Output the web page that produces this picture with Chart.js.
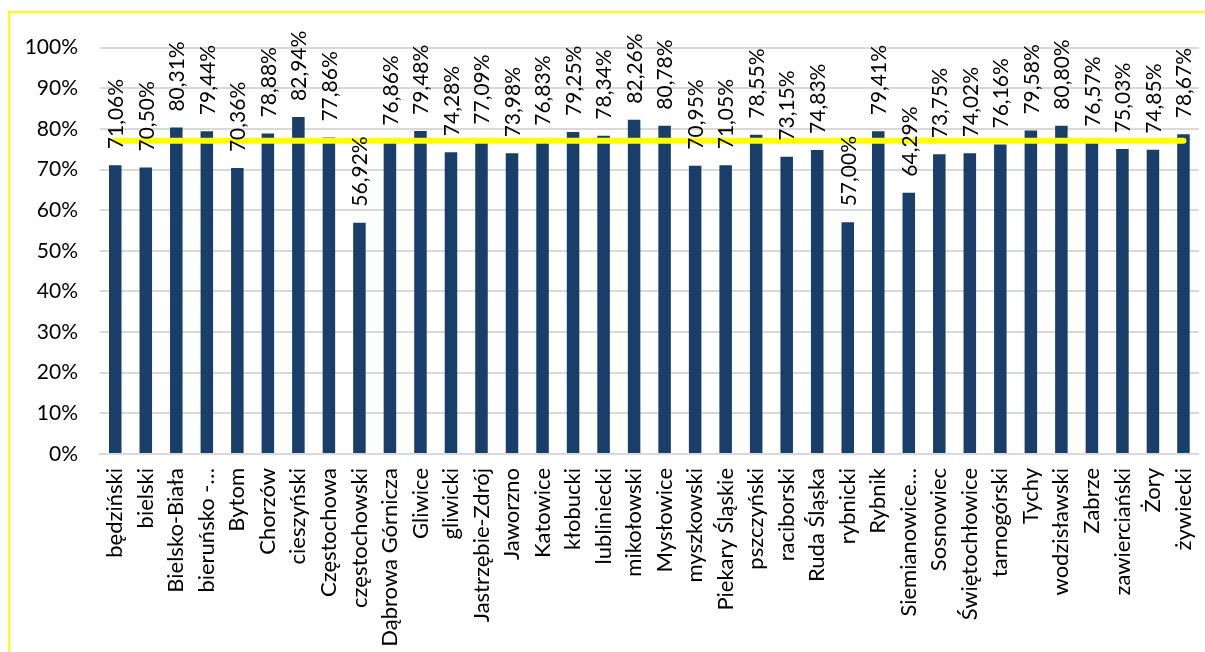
<!DOCTYPE html>
<html>
<head>
<meta charset="utf-8">
<script src="https://cdn.jsdelivr.net/npm/chart.js@4.4.0/dist/chart.umd.min.js"></script>
<style>
body { margin: 0; overflow: hidden; background: #fff; }
#frame { position: absolute; left: 8px; top: 11px; width: 1240px; height: 700px; border: 2px solid #ffff00; }
#chart1 { position: absolute; left: 0; top: 0; }
</style>
</head>
<body>
<div id="frame"><canvas id="chart1" width="1214" height="640"></canvas></div>
<script>

var categories = ['będziński', 'bielski', 'Bielsko-Biała', 'bieruńsko -…', 'Bytom', 'Chorzów', 'cieszyński',
    'Częstochowa', 'częstochowski', 'Dąbrowa Górnicza', 'Gliwice', 'gliwicki', 'Jastrzębie-Zdrój', 'Jaworzno',
    'Katowice', 'kłobucki', 'lubliniecki', 'mikołowski', 'Mysłowice', 'myszkowski', 'Piekary Śląskie',
    'pszczyński', 'raciborski', 'Ruda Śląska', 'rybnicki', 'Rybnik', 'Siemianowice…', 'Sosnowiec',
    'Świętochłowice', 'tarnogórski', 'Tychy', 'wodzisławski', 'Zabrze', 'zawierciański', 'Żory', 'żywiecki'];

var values = [71.06, 70.50, 80.31, 79.44, 70.36, 78.88, 82.94, 77.86, 56.92, 76.86, 79.48, 74.28,
    77.09, 73.98, 76.83, 79.25, 78.34, 82.26, 80.78, 70.95, 71.05, 78.55, 73.15, 74.83,
    57.00, 79.41, 64.29, 73.75, 74.02, 76.16, 79.58, 80.80, 76.57, 75.03, 74.85, 78.67];

// yellow reference line, runs from first to last category
var refLine = [77.1, 77.1];

var yMin = 0, yMax = 100, yStep = 10;

var barColor = '#1a3e6a';
var fontName = 'Lato';


// labels above the bars, turned upright like in excel
var barLabels = {
  id: 'barLabels',
  afterDatasetsDraw: function (chart) {
    var meta = chart.getDatasetMeta(1);
    var ctx = chart.ctx;
    ctx.save();
    ctx.font = '21px ' + fontName;
    ctx.fillStyle = '#000';
    ctx.textAlign = 'left';
    ctx.textBaseline = 'middle';
    for (var i = 0; i < meta.data.length; i++) {
      var bar = meta.data[i];
      ctx.save();
      ctx.translate(bar.x + 1, bar.y - 16);
      ctx.rotate(-Math.PI / 2);
      ctx.fillText(values[i].toFixed(2).replace('.', ',') + '%', 0, 0);
      ctx.restore();
    }
    ctx.restore();
  }
};

var ctx1 = document.getElementById('chart1').getContext('2d');
var myBarChart = new Chart(ctx1, {
  type: 'bar',
  data: {
    labels: categories,
    datasets: [{
      type: 'line',
      data: [{ x: categories[0], y: refLine[0] }, { x: categories[categories.length - 1], y: refLine[1] }],
      borderColor: '#ffff00',
      borderWidth: 6,
      borderCapStyle: 'round',
      pointRadius: 0,
      order: 0
    }, {
      data: values,
      backgroundColor: barColor,
      barPercentage: 0.41,
      categoryPercentage: 1,
      order: 1
    }]
  },
  options: {
    responsive: false,
    animation: false,
    devicePixelRatio: 1,
    layout: { padding: { top: 34, right: 10, bottom: 0, left: 0 } },
    plugins: {
      legend: { display: false },
      tooltip: { enabled: false }
    },
    scales: {
      x: {
        grid: { display: false, drawTicks: false },
        border: { display: true, color: '#d9d9d9', width: 2 },
        ticks: {
          autoSkip: false,
          minRotation: 90,
          maxRotation: 90,
          padding: 14,
          color: '#000',
          font: { family: fontName, size: 22 }
        },
        afterFit: function (scale) { scale.height = 199; }
      },
      y: {
        min: yMin,
        max: yMax,
        grid: { color: '#d9d9d9', lineWidth: 2, drawTicks: false },
        border: { display: false },
        ticks: {
          stepSize: yStep,
          padding: 22,
          color: '#000',
          font: { family: fontName, size: 21 },
          callback: function (v) { return v + '%'; }
        },
        afterFit: function (scale) { scale.width = 90; }
      }
    }
  },
  plugins: [barLabels]
});

</script>
</body>
</html>
